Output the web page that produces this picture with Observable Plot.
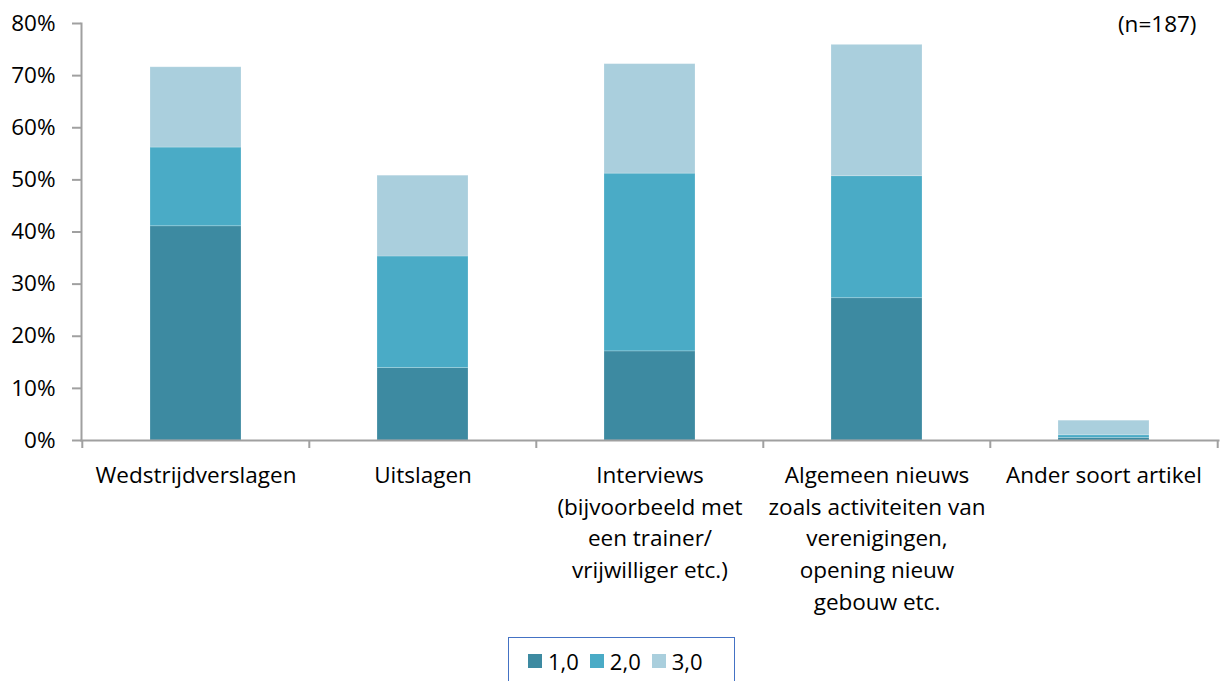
<!DOCTYPE html>
<html>
<head>
<meta charset="utf-8">
<script src="https://cdn.jsdelivr.net/npm/d3@7"></script>
<script src="https://cdn.jsdelivr.net/npm/@observablehq/plot@0.6"></script>
<style>
  html, body { margin: 0; padding: 0; background: #fff; }
  #wrap { position: relative; width: 1220px; height: 681px; overflow: hidden; font-family: "Open Sans", sans-serif; }
  #legend { position: absolute; left: 508px; top: 637px; width: 227px; height: 60px; border: 1.5px solid #4472C4; box-sizing: border-box;
            display: flex; gap: 11px; padding-left: 19px; padding-top: 9px; font-size: 22px; color: #000; }
  .item { display: flex; align-items: center; gap: 6px; height: 28px; }
  .sw { width: 14px; height: 14px; display: inline-block; }
</style>
</head>
<body>
<div id="wrap"><div id="chart"></div><div id="legend"></div></div>
<script>
const categories = [
  "Wedstrijdverslagen",
  "Uitslagen",
  "Interviews\n(bijvoorbeeld met\neen trainer/\nvrijwilliger etc.)",
  "Algemeen nieuws\nzoals activiteiten van\nverenigingen,\nopening nieuw\ngebouw etc.",
  "Ander soort artikel"
];
const series = ["1,0", "2,0", "3,0"];
const values1 = [41.1, 13.9, 17.1, 27.3, 0.5];
const values2 = [15.1, 21.4, 34.1, 23.4, 0.5];
const values3 = [15.4, 15.5, 21.0, 25.2, 2.8];
const colors = ["#3d8aa1", "#4aabc6", "#aacfdd"];
const yTicks = [0, 0.1, 0.2, 0.3, 0.4, 0.5, 0.6, 0.7, 0.8];
const note = "(n=187)";

const seriesValues = [values1, values2, values3];
const data = [];
series.forEach((s, si) => categories.forEach((c, ci) => data.push({cat: c, series: s, value: seriesValues[si][ci] / 100})));

const axisColor = "#a0a0a0";
const font = "'Open Sans', sans-serif";
const fs = 22.5;

const plot = Plot.plot({
  width: 1220,
  height: 637,
  marginLeft: 81,
  marginRight: 2,
  marginTop: 23,
  marginBottom: 197,
  style: {fontFamily: font, fontSize: fs + "px", color: "#000", background: "#fff"},
  x: {domain: categories, paddingInner: 0.6, paddingOuter: 0.3, axis: null},
  y: {domain: [0, 0.8], axis: null},
  color: {domain: series, range: colors},
  marks: [
    Plot.barY(data, {x: "cat", y: "value", fill: "series", stroke: "#ffffff", strokeOpacity: 0.25, strokeWidth: 0.8}),
    Plot.axisY({ticks: yTicks, tickFormat: d3.format(".0%"), tickSize: 9, tickPadding: 17, stroke: axisColor, strokeWidth: 2, fill: "#000", fontSize: fs, label: null}),
    Plot.axisX({tickSize: 8, dx: -113.7, tickFormat: () => "", stroke: axisColor, strokeWidth: 2, label: null}),
    Plot.axisX({ticks: [categories[categories.length - 1]], tickSize: 8, dx: 113.7, tickFormat: () => "", stroke: axisColor, strokeWidth: 2, label: null}),
    Plot.frame({anchor: "left", stroke: axisColor, strokeWidth: 2}),
    Plot.frame({anchor: "bottom", stroke: axisColor, strokeWidth: 2}),
    Plot.text(categories, {x: d => d, frameAnchor: "bottom", lineAnchor: "top", dy: 20, lineHeight: 1.41, fontSize: fs, fill: "#000"}),
    Plot.text([note], {frameAnchor: "top-right", textAnchor: "end", lineAnchor: "middle", dx: -22, dy: 1, fontSize: fs, fill: "#000"})
  ]
});
document.getElementById("chart").appendChild(plot);

const legend = document.getElementById("legend");
series.forEach((s, i) => {
  const item = document.createElement("div");
  item.className = "item";
  const sw = document.createElement("span");
  sw.className = "sw";
  sw.style.background = colors[i];
  const label = document.createElement("span");
  label.textContent = s;
  item.appendChild(sw);
  item.appendChild(label);
  legend.appendChild(item);
});
</script>
</body>
</html>
